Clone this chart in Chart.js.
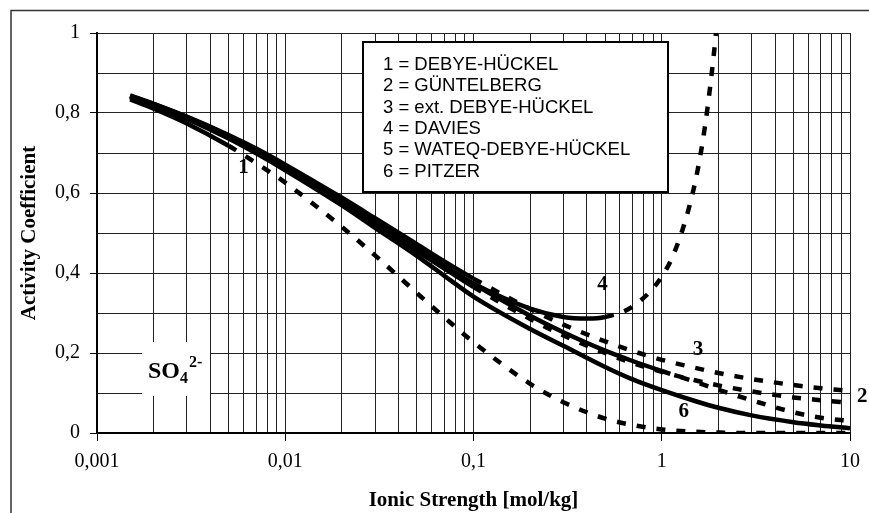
<!DOCTYPE html>
<html>
<head>
<meta charset="utf-8">
<script src="https://cdn.jsdelivr.net/npm/chart.js@4.4.0/dist/chart.umd.min.js"></script>
<style>
  html, body { margin: 0; padding: 0; background: #fff; }
  #wrap { width: 869px; height: 513px; }
</style>
</head>
<body>
<div id="wrap"><canvas id="chart1" width="869" height="513"></canvas></div>
<script>
// ionic strength points [mol/kg]
const ionicStrength = [0.0015, 0.002, 0.003, 0.005, 0.007, 0.01, 0.02, 0.03, 0.05, 0.07,
                       0.1, 0.2, 0.3, 0.5, 0.7, 1, 1.5, 2, 3, 5, 7, 10];
const debyeHueckel  = [0.834, 0.811, 0.774, 0.718, 0.675, 0.626, 0.515, 0.444, 0.350, 0.289,
                       0.227, 0.123, 0.077, 0.036, 0.020, 0.009, 0.003, 0.001, 0, 0, 0, 0];
const guentelberg   = [0.842, 0.822, 0.789, 0.741, 0.706, 0.665, 0.579, 0.525, 0.456, 0.411,
                       0.365, 0.285, 0.244, 0.200, 0.175, 0.153, 0.132, 0.119, 0.104, 0.089, 0.082, 0.075];
const extDebye      = [0.844, 0.823, 0.791, 0.745, 0.711, 0.671, 0.588, 0.537, 0.472, 0.429,
                       0.386, 0.310, 0.271, 0.229, 0.205, 0.183, 0.163, 0.150, 0.135, 0.120, 0.112, 0.105];
const wateq         = [0.843, 0.822, 0.790, 0.743, 0.708, 0.668, 0.583, 0.530, 0.462, 0.418,
                       0.373, 0.293, 0.252, 0.206, 0.180, 0.155, 0.128, 0.108, 0.082, 0.052, 0.038, 0.030];
const pitzer        = [0.839, 0.818, 0.785, 0.736, 0.699, 0.657, 0.569, 0.513, 0.443, 0.393,
                       0.341, 0.260, 0.218, 0.165, 0.134, 0.107, 0.080, 0.063, 0.044, 0.027, 0.019, 0.012];
// Davies has its own points (rises steeply above 1)
const daviesIonic   = [0.0015, 0.002, 0.003, 0.005, 0.007, 0.01, 0.02, 0.03, 0.05, 0.07,
                       0.1, 0.2, 0.3, 0.4, 0.5, 0.7, 1, 1.2, 1.5, 1.7, 1.9, 1.96];
const davies        = [0.841, 0.820, 0.787, 0.739, 0.703, 0.662, 0.575, 0.522, 0.455, 0.414,
                       0.373, 0.311, 0.290, 0.286, 0.290, 0.316, 0.391, 0.466, 0.624, 0.769, 0.956, 1.022];

const xMajorTicks = [0.001, 0.01, 0.1, 1, 10];
const xTickLabels = ["0,001", "0,01", "0,1", "1", "10"];
const yTickLabels = ["0", "0,2", "0,4", "0,6", "0,8", "1"];
const legendLines = ["1 = DEBYE-HÜCKEL", "2 = GÜNTELBERG", "3 = ext. DEBYE-HÜCKEL",
                     "4 = DAVIES", "5 = WATEQ-DEBYE-HÜCKEL", "6 = PITZER"];
// curve number labels: [text, ionic strength, activity coefficient]
const curveLabels = [["1", 0.006, 0.663], ["4", 0.484, 0.37], ["3", 1.56, 0.208],
                     ["6", 1.31, 0.053], ["2", 11.6, 0.092]];

function pts(xs, ys) { return xs.map((x, i) => ({x: x, y: ys[i]})); }

function curve(xs, ys, solidUntil) {
  return {
    data: pts(xs, ys),
    borderColor: '#000',
    borderWidth: 4.5,
    pointRadius: 0,
    cubicInterpolationMode: 'monotone',
    segment: {
      borderDash: ctx => ctx.p0.parsed.x >= solidUntil * 0.999 ? [9, 11] : undefined
    }
  };
}

const frame = {
  id: 'frame',
  beforeDraw(chart) {
    const c = chart.ctx;
    c.save();
    c.strokeStyle = '#333';
    c.lineWidth = 1.5;
    c.beginPath();
    c.moveTo(11, 513); c.lineTo(11, 10.5); c.lineTo(869, 10.5);
    c.stroke();
    c.restore();
  },
  afterDraw(chart) {
    const c = chart.ctx, a = chart.chartArea;
    const xs = chart.scales.x, ys = chart.scales.y;
    c.save();
    // legend box
    const bx = a.left + 266, by = a.top + 9, bw = 305, bh = 150;
    c.fillStyle = '#fff';
    c.fillRect(bx, by, bw, bh);
    c.strokeStyle = '#000';
    c.lineWidth = 2;
    c.strokeRect(bx, by, bw, bh);
    c.fillStyle = '#000';
    c.font = '18.5px "Liberation Sans", Arial, sans-serif';
    c.textBaseline = 'middle';
    c.textAlign = 'left';
    legendLines.forEach((t, i) => c.fillText(t, bx + 20, by + 23 + i * 21.35));

    // SO4 2- label
    const sx = a.left + 45, sy = a.top + 309;
    c.fillStyle = '#fff';
    c.fillRect(sx, sy, 68, 54);
    c.fillStyle = '#000';
    c.textBaseline = 'alphabetic';
    c.font = 'bold 24px "Liberation Serif", serif';
    c.fillText('SO', sx + 6, sy + 36);
    const w = c.measureText('SO').width;
    c.font = 'bold 16px "Liberation Serif", serif';
    c.fillText('4', sx + 6 + w, sy + 41);
    c.fillText('2-', sx + 6 + w + 9, sy + 25);

    // curve numbers
    c.font = 'bold 21px "Liberation Serif", serif';
    c.textAlign = 'center';
    c.textBaseline = 'middle';
    curveLabels.forEach(l => c.fillText(l[0], xs.getPixelForValue(l[1]), ys.getPixelForValue(l[2])));
    c.restore();
  }
};

new Chart("chart1", {
  type: 'line',
  data: {
    datasets: [
      curve(ionicStrength, debyeHueckel, 0.005),
      curve(ionicStrength, guentelberg, 0.1),
      curve(ionicStrength, extDebye, 0.1),
      curve(daviesIonic, davies, 0.5),
      curve(ionicStrength, wateq, 1),
      curve(ionicStrength, pitzer, 100)
    ]
  },
  options: {
    responsive: false,
    animation: false,
    devicePixelRatio: 1,
    layout: { padding: { top: 33, right: 18, left: 0, bottom: 0 } },
    plugins: { legend: { display: false }, tooltip: { enabled: false } },
    scales: {
      x: {
        type: 'logarithmic',
        min: 0.001,
        max: 10,
        afterBuildTicks: scale => {
          const t = [];
          xMajorTicks.forEach((d, i) => {
            if (i === xMajorTicks.length - 1) { t.push({value: d}); return; }
            for (let m = 1; m < 10; m++) t.push({value: +(d * m).toPrecision(6)});
          });
          scale.ticks = t;
        },
        afterFit: scale => { scale.height = 80; },
        ticks: {
          autoSkip: false,
          maxRotation: 0,
          padding: 9,
          color: '#000',
          font: { family: '"Liberation Serif", serif', size: 20 },
          callback: v => {
            const i = xMajorTicks.indexOf(v);
            return i >= 0 ? xTickLabels[i] : '';
          }
        },
        grid: {
          color: '#222',
          lineWidth: 1,
          tickLength: 8,
          tickColor: ctx => (ctx.tick && xMajorTicks.indexOf(ctx.tick.value) >= 0) ? '#000' : 'rgba(0,0,0,0)'
        },
        border: { color: '#000', width: 2 },
        title: {
          display: true,
          text: 'Ionic Strength [mol/kg]',
          color: '#000',
          font: { family: '"Liberation Serif", serif', size: 21, weight: 'bold' },
          padding: { top: 0, bottom: 0 }
        }
      },
      y: {
        min: 0,
        max: 1,
        afterFit: scale => { scale.width = 97; },
        ticks: {
          stepSize: 0.1,
          padding: 10,
          color: '#000',
          font: { family: '"Liberation Serif", serif', size: 20 },
          callback: v => {
            const k = Math.round(v * 10);
            return k % 2 === 0 ? yTickLabels[k / 2] : '';
          }
        },
        grid: {
          color: '#222',
          lineWidth: 1,
          tickLength: 7,
          tickColor: ctx => (ctx.tick && Math.round(ctx.tick.value * 10) % 2 === 0) ? '#000' : 'rgba(0,0,0,0)'
        },
        border: { color: '#000', width: 2 },
        title: {
          display: true,
          text: 'Activity Coefficient',
          color: '#000',
          font: { family: '"Liberation Serif", serif', size: 21, weight: 'bold' },
          padding: { top: 17, bottom: 0 }
        }
      }
    }
  },
  plugins: [frame]
});
</script>
</body>
</html>
